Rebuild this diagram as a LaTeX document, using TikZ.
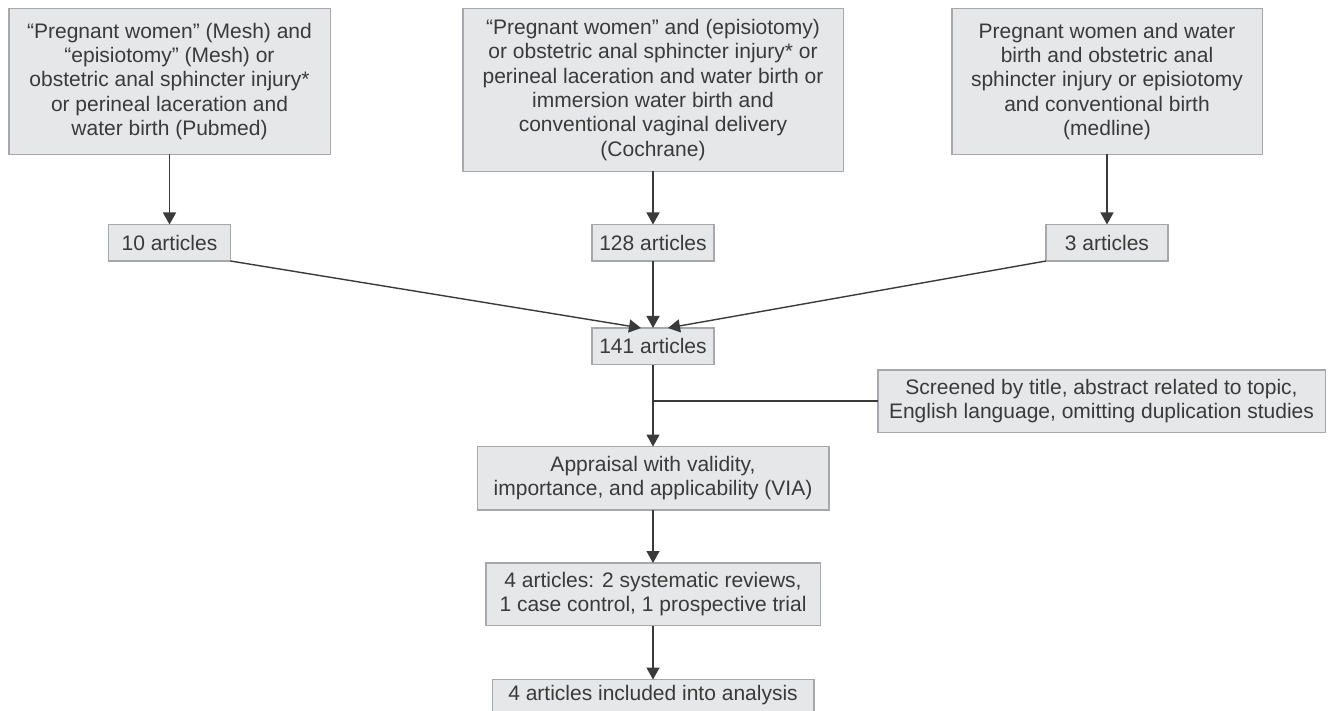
\documentclass[tikz,border=0pt]{standalone}
\usepackage{fontspec}
\setmainfont{Liberation Sans}
\usetikzlibrary{positioning,arrows.meta}
\definecolor{boxfill}{HTML}{E6E7E8}
\definecolor{boxline}{HTML}{A6A8AB}
\definecolor{inkgray}{HTML}{3A3A3A}

\begin{document}
\begin{tikzpicture}[
  x=1pt, y=-1pt,
  flowbox/.style={rectangle, draw=boxline, fill=boxfill, line width=1.5pt, align=center,
    inner sep=2pt, outer sep=0pt, text=inkgray, font=\fontsize{21}{24.3}\selectfont},
  querybox/.style={flowbox, anchor=north},
  countbox/.style={flowbox, minimum width=122pt, minimum height=36.5pt},
  flowline/.style={draw=inkgray, line width=1.4pt},
  >={Triangle[width=13pt,length=12pt]}
]
  \useasboundingbox (0,0) rectangle (1328,711);

  % search queries
  \node[querybox, minimum width=321.5pt, minimum height=146pt] (pubmed) at (169.5,8.5)
    {“Pregnant women” (Mesh) and\\“episiotomy” (Mesh) or\\obstetric anal sphincter injury*\\or perineal laceration and\\water birth (Pubmed)};
  \node[querybox, minimum width=380.5pt, minimum height=163pt] (cochrane) at (653,8.5)
    {“Pregnant women” and (episiotomy)\\or obstetric anal sphincter injury* or\\perineal laceration and water birth or\\immersion water birth and\\conventional vaginal delivery\\(Cochrane)};
  \node[querybox, minimum width=310.5pt, minimum height=146pt] (medline) at (1107,8.5)
    {Pregnant women and water\\birth and obstetric anal\\sphincter injury or episiotomy\\and conventional birth\\(medline)};

  % hits per database
  \node[countbox, below=70pt of pubmed] (n10) {10 articles};
  \node[countbox, below=53pt of cochrane] (n128) {128 articles};
  \node[countbox, below=70pt of medline] (n3) {3 articles};

  % selection chain
  \node[countbox, below=67pt of n128] (n141) {141 articles};
  \node[flowbox, minimum width=447.5pt, minimum height=62.5pt] (screen) at (1101.5,401)
    {Screened by title, abstract related to topic,\\English language, omitting duplication studies};
  \node[flowbox, below=82pt of n141, minimum width=351.5pt, minimum height=63.5pt] (appraisal)
    {Appraisal with validity,\\importance, and applicability (VIA)};
  \node[flowbox, below=53pt of appraisal, minimum width=334.5pt, minimum height=62.5pt] (four)
    {4 articles: 2 systematic reviews,\\1 case control, 1 prospective trial};
  \node[flowbox, below=54pt of four, minimum width=321.5pt, minimum height=32pt] (final)
    {4 articles included into analysis};

  \draw[flowline, ->] (pubmed) -- (n10);
  \draw[flowline, ->] (cochrane) -- (n128);
  \draw[flowline, ->] (medline) -- (n3);
  \draw[flowline, ->] (n10.south east) -- ([xshift=-12pt]n141.north);
  \draw[flowline, ->] (n128) -- (n141);
  \draw[flowline, ->] (n3.south west) -- ([xshift=15pt]n141.north);
  \draw[flowline, ->] (n141) -- (appraisal);
  \draw[flowline] (screen.west) -- (screen.west -| n141.south);
  \draw[flowline, ->] (appraisal) -- (four);
  \draw[flowline, ->] (four) -- (final);
\end{tikzpicture}
\end{document}
